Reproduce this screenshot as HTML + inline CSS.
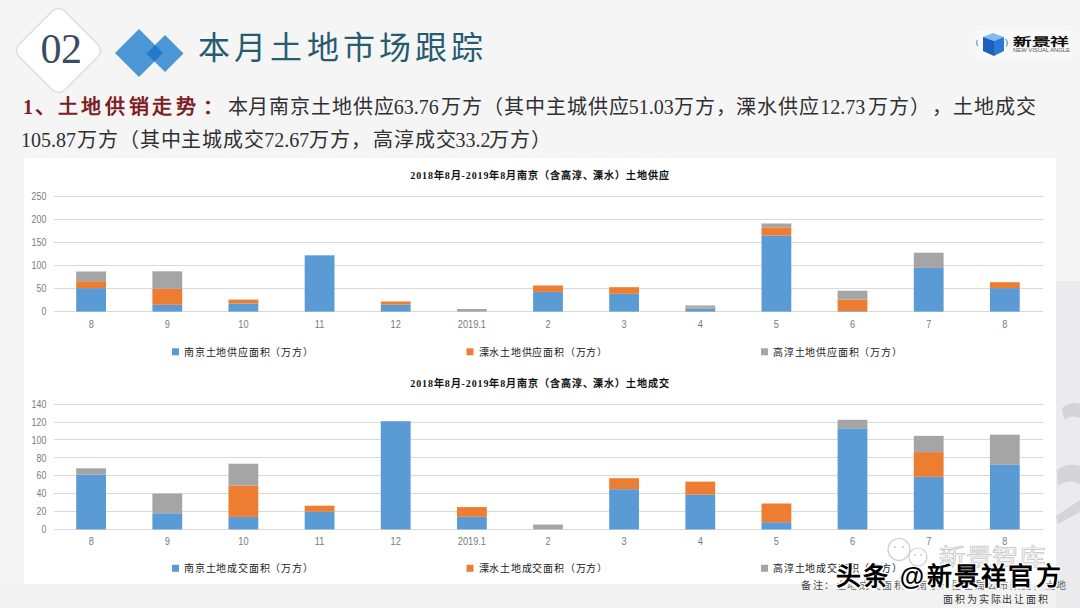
<!DOCTYPE html>
<html lang="zh-CN"><head><meta charset="utf-8">
<style>
*{margin:0;padding:0;box-sizing:border-box}
html,body{width:1080px;height:608px;overflow:hidden}
body{background:#f5f5f6;position:relative;font-family:"Liberation Serif",serif}
.abs{position:absolute}
#panel{left:24px;top:158px;width:1032px;height:426px;background:#fff}
#rstrip{left:1056px;top:281px;width:24px;height:327px;background:#ebebed}
#bot{left:0;top:584px;width:1080px;height:24px;background:#f2f2f3}
#badge{left:58.3px;top:50.8px;width:0;height:0}
#badge div{position:absolute;left:-32.5px;top:-32.5px;width:65px;height:65px;background:#fff;border:1px solid #d8d8d8;border-radius:9px;transform:rotate(45deg);box-shadow:0 0 2px rgba(0,0,0,.12)}
#n02{left:40.5px;top:27.5px;line-height:42px;font-size:42px;color:#3b4c60;font-family:"Liberation Serif",serif;letter-spacing:-0.5px}
#title{left:198px;top:22px;font-size:32px;color:#275b6f;letter-spacing:4.2px;white-space:nowrap}
.line{white-space:nowrap;font-size:20px;color:#303030;line-height:24px}
#l1{left:23px;top:95px}
#l2{left:23px;top:128px}
.red{color:#7d1d24;font-weight:bold;letter-spacing:3.64px}
.r1{letter-spacing:1.5px}
.c{letter-spacing:0.9px}
.c2{letter-spacing:1.2px}
.n{letter-spacing:0}
svg text{font-family:"Liberation Sans",sans-serif}
.yl{font-size:10.5px;fill:#7a7a7a;text-anchor:end}
.xl{font-size:10.5px;fill:#7a7a7a;text-anchor:middle}
.ct{font-size:10px;fill:#111;text-anchor:middle;font-weight:bold;letter-spacing:0.9px;font-family:"Liberation Serif",serif}
.lg{font-size:10px;fill:#222;letter-spacing:0.8px}
</style></head><body>
<div id="panel" class="abs"></div>
<div id="bot" class="abs"></div>
<div id="rstrip" class="abs"></div>
<div id="badge" class="abs"><div></div></div>
<div id="n02" class="abs">02</div>
<svg class="abs" style="left:0;top:0" width="1080" height="608">
<polygon points="115,53 139,29 163,53 139,77" fill="#4b96d4"/>
<polygon points="146.5,53.5 165,35 183.5,53.5 165,72" fill="#4b96d4"/>
<polygon points="146.5,53.5 155,45 163,53 154.5,61.5" fill="#237ac9"/>
<line x1="54" x2="1043" y1="311.5" y2="311.5" stroke="#d9d9d9" stroke-width="1"/>
<text transform="translate(46.3,315.3) scale(0.84,1)" class="yl">0</text>
<line x1="54" x2="1043" y1="288.5" y2="288.5" stroke="#d9d9d9" stroke-width="1"/>
<text transform="translate(46.3,292.2) scale(0.84,1)" class="yl">50</text>
<line x1="54" x2="1043" y1="265.5" y2="265.5" stroke="#d9d9d9" stroke-width="1"/>
<text transform="translate(46.3,269.2) scale(0.84,1)" class="yl">100</text>
<line x1="54" x2="1043" y1="242.5" y2="242.5" stroke="#d9d9d9" stroke-width="1"/>
<text transform="translate(46.3,246.1) scale(0.84,1)" class="yl">150</text>
<line x1="54" x2="1043" y1="219.5" y2="219.5" stroke="#d9d9d9" stroke-width="1"/>
<text transform="translate(46.3,223.1) scale(0.84,1)" class="yl">200</text>
<line x1="54" x2="1043" y1="196.5" y2="196.5" stroke="#d9d9d9" stroke-width="1"/>
<text transform="translate(46.3,200.0) scale(0.84,1)" class="yl">250</text>
<rect x="76.2" y="288.1" width="29.8" height="23.5" fill="#5b9bd5"/>
<rect x="76.2" y="281.2" width="29.8" height="6.9" fill="#ed7d31"/>
<rect x="76.2" y="271.5" width="29.8" height="9.7" fill="#a5a5a5"/>
<text transform="translate(91.2,328) scale(0.88,1)" class="xl">8</text>
<rect x="152.4" y="304.8" width="29.8" height="6.8" fill="#5b9bd5"/>
<rect x="152.4" y="288.5" width="29.8" height="16.3" fill="#ed7d31"/>
<rect x="152.4" y="271.3" width="29.8" height="17.2" fill="#a5a5a5"/>
<text transform="translate(167.3,328) scale(0.88,1)" class="xl">9</text>
<rect x="228.5" y="303.5" width="29.8" height="8.1" fill="#5b9bd5"/>
<rect x="228.5" y="299.6" width="29.8" height="3.9" fill="#ed7d31"/>
<text transform="translate(243.4,328) scale(0.88,1)" class="xl">10</text>
<rect x="304.7" y="255.3" width="29.8" height="56.3" fill="#5b9bd5"/>
<text transform="translate(319.6,328) scale(0.88,1)" class="xl">11</text>
<rect x="380.8" y="304.7" width="29.8" height="6.9" fill="#5b9bd5"/>
<rect x="380.8" y="301.5" width="29.8" height="3.2" fill="#ed7d31"/>
<text transform="translate(395.7,328) scale(0.88,1)" class="xl">12</text>
<rect x="457.0" y="309.0" width="29.8" height="2.6" fill="#a5a5a5"/>
<text transform="translate(471.9,328) scale(0.88,1)" class="xl">2019.1</text>
<rect x="533.1" y="291.9" width="29.8" height="19.7" fill="#5b9bd5"/>
<rect x="533.1" y="285.5" width="29.8" height="6.4" fill="#ed7d31"/>
<text transform="translate(548.0,328) scale(0.88,1)" class="xl">2</text>
<rect x="609.2" y="293.8" width="29.8" height="17.8" fill="#5b9bd5"/>
<rect x="609.2" y="287.2" width="29.8" height="6.6" fill="#ed7d31"/>
<text transform="translate(624.1,328) scale(0.88,1)" class="xl">3</text>
<rect x="685.4" y="308.4" width="29.8" height="3.2" fill="#5b9bd5"/>
<rect x="685.4" y="307.7" width="29.8" height="0.7" fill="#ed7d31"/>
<rect x="685.4" y="305.5" width="29.8" height="2.2" fill="#a5a5a5"/>
<text transform="translate(700.3,328) scale(0.88,1)" class="xl">4</text>
<rect x="761.5" y="235.5" width="29.8" height="76.1" fill="#5b9bd5"/>
<rect x="761.5" y="227.4" width="29.8" height="8.1" fill="#ed7d31"/>
<rect x="761.5" y="223.5" width="29.8" height="3.9" fill="#a5a5a5"/>
<text transform="translate(776.4,328) scale(0.88,1)" class="xl">5</text>
<rect x="837.6" y="311.1" width="29.8" height="0.5" fill="#5b9bd5"/>
<rect x="837.6" y="299.5" width="29.8" height="11.7" fill="#ed7d31"/>
<rect x="837.6" y="290.7" width="29.8" height="8.8" fill="#a5a5a5"/>
<text transform="translate(852.5,328) scale(0.88,1)" class="xl">6</text>
<rect x="913.8" y="267.9" width="29.8" height="43.7" fill="#5b9bd5"/>
<rect x="913.8" y="252.7" width="29.8" height="15.2" fill="#a5a5a5"/>
<text transform="translate(928.7,328) scale(0.88,1)" class="xl">7</text>
<rect x="989.9" y="288.1" width="29.8" height="23.5" fill="#5b9bd5"/>
<rect x="989.9" y="282.2" width="29.8" height="5.9" fill="#ed7d31"/>
<text transform="translate(1004.8,328) scale(0.88,1)" class="xl">8</text>
<text x="540" y="178.5" class="ct">2018年8月-2019年8月南京（含高淳、溧水）土地供应</text>
<rect x="172.0" y="348.3" width="7" height="7" fill="#5b9bd5"/>
<text x="184.0" y="355.8" class="lg">南京土地供应面积（万方）</text>
<rect x="466.5" y="348.3" width="7" height="7" fill="#ed7d31"/>
<text x="478.5" y="355.8" class="lg">溧水土地供应面积（万方）</text>
<rect x="761.0" y="348.3" width="7" height="7" fill="#a5a5a5"/>
<text x="773.0" y="355.8" class="lg">高淳土地供应面积（万方）</text>
<line x1="54" x2="1043" y1="529.5" y2="529.5" stroke="#d9d9d9" stroke-width="1"/>
<text transform="translate(46.3,533.1) scale(0.84,1)" class="yl">0</text>
<line x1="54" x2="1043" y1="511.5" y2="511.5" stroke="#d9d9d9" stroke-width="1"/>
<text transform="translate(46.3,515.2) scale(0.84,1)" class="yl">20</text>
<line x1="54" x2="1043" y1="493.5" y2="493.5" stroke="#d9d9d9" stroke-width="1"/>
<text transform="translate(46.3,497.3) scale(0.84,1)" class="yl">40</text>
<line x1="54" x2="1043" y1="475.5" y2="475.5" stroke="#d9d9d9" stroke-width="1"/>
<text transform="translate(46.3,479.4) scale(0.84,1)" class="yl">60</text>
<line x1="54" x2="1043" y1="457.5" y2="457.5" stroke="#d9d9d9" stroke-width="1"/>
<text transform="translate(46.3,461.6) scale(0.84,1)" class="yl">80</text>
<line x1="54" x2="1043" y1="439.5" y2="439.5" stroke="#d9d9d9" stroke-width="1"/>
<text transform="translate(46.3,443.7) scale(0.84,1)" class="yl">100</text>
<line x1="54" x2="1043" y1="422.5" y2="422.5" stroke="#d9d9d9" stroke-width="1"/>
<text transform="translate(46.3,425.8) scale(0.84,1)" class="yl">120</text>
<line x1="54" x2="1043" y1="404.5" y2="404.5" stroke="#d9d9d9" stroke-width="1"/>
<text transform="translate(46.3,407.9) scale(0.84,1)" class="yl">140</text>
<rect x="76.2" y="474.5" width="29.8" height="54.9" fill="#5b9bd5"/>
<rect x="76.2" y="468.3" width="29.8" height="6.2" fill="#a5a5a5"/>
<text transform="translate(91.2,545.4) scale(0.88,1)" class="xl">8</text>
<rect x="152.4" y="513.3" width="29.8" height="16.1" fill="#5b9bd5"/>
<rect x="152.4" y="493.6" width="29.8" height="19.7" fill="#a5a5a5"/>
<text transform="translate(167.3,545.4) scale(0.88,1)" class="xl">9</text>
<rect x="228.5" y="516.9" width="29.8" height="12.5" fill="#5b9bd5"/>
<rect x="228.5" y="485.6" width="29.8" height="31.3" fill="#ed7d31"/>
<rect x="228.5" y="463.7" width="29.8" height="21.9" fill="#a5a5a5"/>
<text transform="translate(243.4,545.4) scale(0.88,1)" class="xl">10</text>
<rect x="304.7" y="511.7" width="29.8" height="17.7" fill="#5b9bd5"/>
<rect x="304.7" y="505.7" width="29.8" height="6.0" fill="#ed7d31"/>
<text transform="translate(319.6,545.4) scale(0.88,1)" class="xl">11</text>
<rect x="380.8" y="421.2" width="29.8" height="108.2" fill="#5b9bd5"/>
<text transform="translate(395.7,545.4) scale(0.88,1)" class="xl">12</text>
<rect x="457.0" y="516.9" width="29.8" height="12.5" fill="#5b9bd5"/>
<rect x="457.0" y="507.1" width="29.8" height="9.7" fill="#ed7d31"/>
<text transform="translate(471.9,545.4) scale(0.88,1)" class="xl">2019.1</text>
<rect x="533.1" y="524.5" width="29.8" height="4.9" fill="#a5a5a5"/>
<text transform="translate(548.0,545.4) scale(0.88,1)" class="xl">2</text>
<rect x="609.2" y="489.2" width="29.8" height="40.2" fill="#5b9bd5"/>
<rect x="609.2" y="478.2" width="29.8" height="11.0" fill="#ed7d31"/>
<text transform="translate(624.1,545.4) scale(0.88,1)" class="xl">3</text>
<rect x="685.4" y="494.5" width="29.8" height="34.9" fill="#5b9bd5"/>
<rect x="685.4" y="481.6" width="29.8" height="13.0" fill="#ed7d31"/>
<text transform="translate(700.3,545.4) scale(0.88,1)" class="xl">4</text>
<rect x="761.5" y="522.2" width="29.8" height="7.2" fill="#5b9bd5"/>
<rect x="761.5" y="503.5" width="29.8" height="18.8" fill="#ed7d31"/>
<text transform="translate(776.4,545.4) scale(0.88,1)" class="xl">5</text>
<rect x="837.6" y="428.3" width="29.8" height="101.1" fill="#5b9bd5"/>
<rect x="837.6" y="419.8" width="29.8" height="8.6" fill="#a5a5a5"/>
<text transform="translate(852.5,545.4) scale(0.88,1)" class="xl">6</text>
<rect x="913.8" y="476.8" width="29.8" height="52.6" fill="#5b9bd5"/>
<rect x="913.8" y="452.1" width="29.8" height="24.7" fill="#ed7d31"/>
<rect x="913.8" y="435.9" width="29.8" height="16.3" fill="#a5a5a5"/>
<text transform="translate(928.7,545.4) scale(0.88,1)" class="xl">7</text>
<rect x="989.9" y="464.4" width="29.8" height="65.0" fill="#5b9bd5"/>
<rect x="989.9" y="434.7" width="29.8" height="29.7" fill="#a5a5a5"/>
<text transform="translate(1004.8,545.4) scale(0.88,1)" class="xl">8</text>
<text x="540" y="386.5" class="ct">2018年8月-2019年8月南京（含高淳、溧水）土地成交</text>
<rect x="172.0" y="564.8" width="7" height="7" fill="#5b9bd5"/>
<text x="184.0" y="572.3" class="lg">南京土地成交面积（万方）</text>
<rect x="466.5" y="564.8" width="7" height="7" fill="#ed7d31"/>
<text x="478.5" y="572.3" class="lg">溧水土地成交面积（万方）</text>
<rect x="761.0" y="564.8" width="7" height="7" fill="#a5a5a5"/>
<text x="773.0" y="572.3" class="lg">高淳土地成交面积（万方）</text>
</svg>
<div id="title" class="abs">本月土地市场跟踪</div>
<span class="abs line red r1" style="left:23px;top:95px">1、</span>
<span class="abs line red" style="left:57.6px;top:95px">土地供销走势</span>
<span class="abs line red" style="left:203px;top:95px">：</span>
<span class="abs line c" style="left:227.5px;top:95px">本月南京土地供应</span>
<span class="abs line n" style="left:393.8px;top:95px">63.76</span>
<span class="abs line c" style="left:441.4px;top:95px">万方（其中主城供应</span>
<span class="abs line n" style="left:628.8px;top:95px">51.03</span>
<span class="abs line c" style="left:673.8px;top:95px">万方，溧水供应</span>
<span class="abs line n" style="left:820.2px;top:95px">12.73</span>
<span class="abs line c" style="left:868.3px;top:95px">万方）</span>
<span class="abs line c" style="left:932px;top:95px">，土地成交</span>
<span class="abs line n" style="left:21px;top:128px">105.87</span>
<span class="abs line c" style="left:77px;top:128px">万方（其中主城成交</span>
<span class="abs line n" style="left:264.2px;top:128px">72.67</span>
<span class="abs line c2" style="left:309px;top:128px">万方，高淳成交</span>
<span class="abs line n" style="left:455.6px;top:128px">33.2</span>
<span class="abs line c2" style="left:488.6px;top:128px">万方）</span>

<svg class="abs" style="left:0;top:0" width="1080" height="608">
<!-- right strip calligraphy strokes -->
<path d="M1062,408 Q1072,400 1080,404 L1080,418 Q1070,414 1064,420 Z" fill="#d5d5d7"/>
<path d="M1057,470 Q1068,462 1080,466 L1080,484 Q1068,478 1058,486 Z" fill="#d5d5d7"/>
<path d="M1056,516 L1080,500 L1080,512 L1058,524 Z" fill="#d5d5d7"/>
<!-- logo -->
<rect x="975" y="30" width="98" height="29" rx="5" fill="#f9f9fa"/>
<path d="M977.5,40 Q975.5,43 978,46" stroke="#6aa6dc" stroke-width="1.3" fill="none"/>
<path d="M1005.5,39 Q1009,42.5 1006,46.5" stroke="#6aa6dc" stroke-width="1.3" fill="none"/>
<polygon points="983,37 993,33 1004,37 994,41" fill="#7fbcec"/>
<polygon points="983,37 994,41 994,56 983,51" fill="#1d5fc0"/>
<polygon points="994,41 1004,37 1004,51 994,56" fill="#2f78d2"/>
<text x="1013" y="46" textLength="56" lengthAdjust="spacingAndGlyphs" style="font-size:11px;font-weight:bold;fill:#111">新景祥</text>
<text x="1013" y="52" textLength="57" lengthAdjust="spacingAndGlyphs" style="font-size:5px;fill:#555">NEW VISUAL ANGLE</text>
<!-- watermark circle icon -->
<circle cx="899" cy="549.5" r="11" fill="none" stroke="#cfcfcf" stroke-width="1.2"/><circle cx="895" cy="547" r="1" fill="#c8c8c8"/><circle cx="903" cy="547" r="1" fill="#c8c8c8"/>
<circle cx="918" cy="557" r="9" fill="#fff" fill-opacity="0.6" stroke="#cfcfcf" stroke-width="1.2"/><circle cx="915" cy="555" r="0.9" fill="#c8c8c8"/><circle cx="921" cy="555" r="0.9" fill="#c8c8c8"/>
<text x="939" y="565" textLength="106" lengthAdjust="spacingAndGlyphs" style="font-size:23px;fill:#fff;stroke:#c4c4c4;stroke-width:0.7">新景智库</text>
</svg>
<div class="abs" style="left:801px;top:577px;font-size:10px;color:#444;letter-spacing:1.6px;white-space:nowrap">备注：<span style="color:#666">土地成交面积为南京市国土局公布数据，土地</span></div>
<div class="abs" style="left:943px;top:591px;font-size:10px;color:#333;letter-spacing:1.9px;white-space:nowrap">面积为实际出让面积</div>
<div class="abs" id="wm" style="left:836px;top:556px;font-size:25px;font-weight:bold;letter-spacing:2.3px;color:#000;white-space:nowrap;font-family:'Liberation Sans',sans-serif;text-shadow:-1.5px 1.5px 0 #fff,1px -1px 0 #fff,-1px -1px 0 #fff,1px 1px 0 #fff">头条 @新景祥官方</div>
</body></html>
